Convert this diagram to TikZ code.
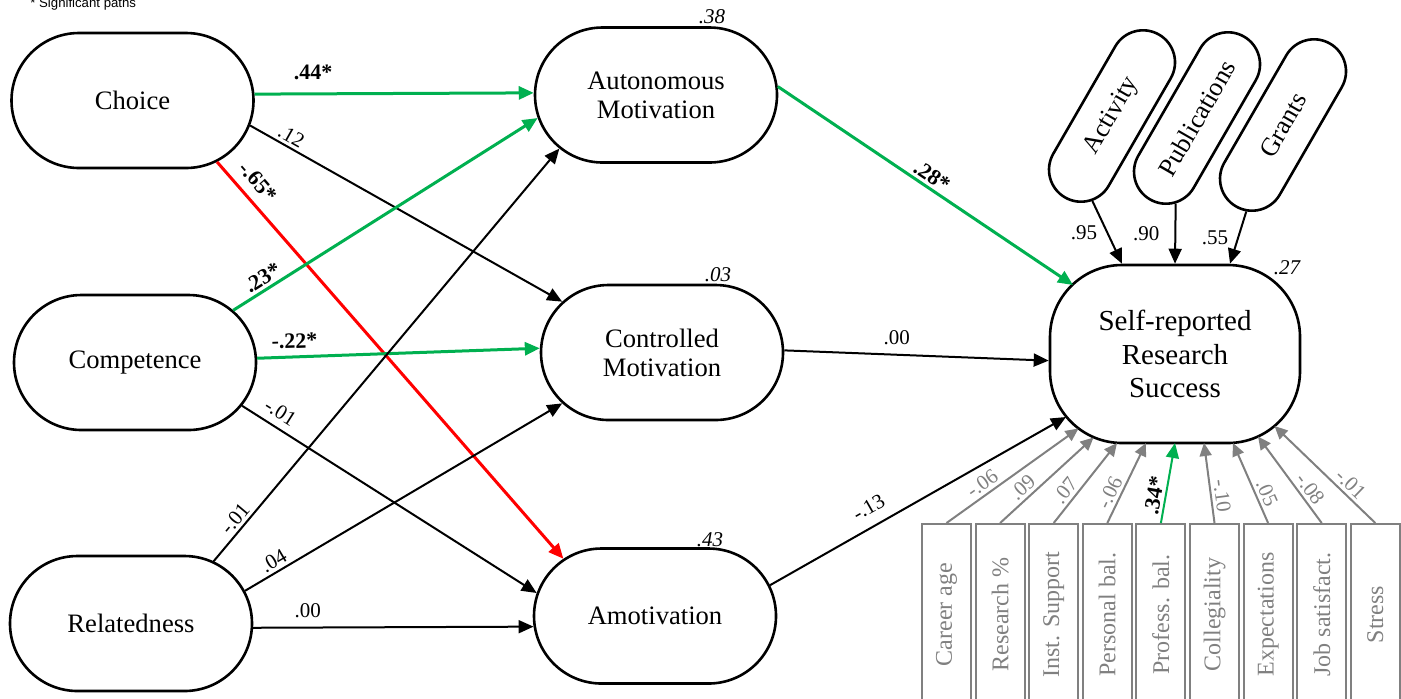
\documentclass[tikz,border=0pt]{standalone}
\usepackage{fontspec}
\setmainfont{Liberation Serif}
\newfontfamily\notefont{Liberation Sans}
\usepackage{tikz}
\usetikzlibrary{shapes.misc, arrows.meta, calc}
\definecolor{sigreen}{RGB}{0,176,80}
\definecolor{negred}{RGB}{255,0,0}
\definecolor{covgray}{RGB}{128,128,128}

\begin{document}
\begin{tikzpicture}[x=0.5pt, y=-0.5pt,
    latent/.style={rounded rectangle, draw, line width=1.3pt, minimum width=125pt, minimum height=67.5pt,
                   align=center, inner sep=2pt, font=\fontsize{13.3}{14.5}\selectfont},
    outcome/.style={rectangle, rounded corners=36pt, draw, line width=1.3pt, minimum width=125pt,
                    minimum height=89pt, align=center, font=\fontsize{14.5}{16.75}\selectfont},
    indicator/.style={rounded rectangle, draw, line width=1.3pt, minimum width=96pt, minimum height=32pt,
                      rotate=60, inner sep=1pt, font=\fontsize{13}{14}\selectfont},
    covbox/.style={rectangle, draw=covgray, line width=1pt, minimum width=90.5pt, minimum height=24.5pt,
                   rotate=90, text=covgray, font=\fontsize{12}{14}\selectfont},
    effect/.style={->, >={Triangle[length=7.5pt, width=6.5pt]}, line width=1pt},
    sigeffect/.style={effect, draw=sigreen, line width=1.5pt},
    negeffect/.style={effect, draw=negred, line width=1.5pt},
    coveffect/.style={->, >={Triangle[length=6.5pt, width=6pt]}, draw=covgray, line width=1pt},
    coef/.style={inner sep=1.5pt, font=\fontsize{10.5}{12}\selectfont},
    sigcoef/.style={inner sep=1.5pt, font=\fontsize{11}{12}\selectfont\bfseries},
    rsq/.style={anchor=base, inner sep=0pt, font=\fontsize{10.5}{12}\selectfont\itshape}]

    \useasboundingbox (0,0) rectangle (1401,698);

    \node[font=\notefont\fontsize{6.6}{8}\selectfont, anchor=base west, inner sep=0pt] (note) at (30,7) {* Significant paths};

    % needs
    \node[latent] (choice) at (132.5,100.5) {Choice};
    \node[latent] (comp) at (135,362.5) {Competence};
    \node[latent] (rel) at (131,623.5) {Relatedness};

    % motivation
    \node[latent] (auto) at (656,95) {Autonomous\\Motivation};
    \node[latent] (ctrl) at (662,352.5) {Controlled\\Motivation};
    \node[latent] (amo) at (655,616) {Amotivation};
    \node[rsq] (r2auto) at (712,23) {.38};
    \node[rsq] (r2ctrl) at (718,281) {.03};
    \node[rsq] (r2amo) at (710,546) {.43};

    % outcome and indicators
    \node[outcome] (srs) at (1175,354) {Self-reported\\Research\\Success};
    \node[rsq] (r2srs) at (1287,274) {.27};
    \coordinate (tipauto) at (1073,285);
    \coordinate (tipamo) at (1066,417);

    \node[indicator] (act) at (1112,116) {Activity};
    \node[indicator] (pub) at (1197,118) {Publications};
    \node[indicator] (grant) at (1283,125) {Grants};

    % covariates
    \foreach \i/\cvname/\txt in {0/career/Career age, 1/respct/Research \%, 2/inst/Inst. Support,
                              3/persbal/Personal bal., 4/profbal/Profess. bal., 5/colleg/Collegiality,
                              6/expect/Expectations, 7/jobsat/Job satisfact., 8/stress/Stress}
        \node[covbox] (\cvname) at ({946.5+53.6*\i},614.5) {\txt};

    % paths from needs
    \draw[sigeffect] (choice.3) -- node[sigcoef, pos=0.21, above=5pt] {.44*} (auto.179);
    \draw[effect] (choice.-12) -- node[coef, pos=0.115, sloped, above] {.12} (ctrl.153);
    \draw[negeffect] (choice.-36) -- node[sigcoef, pos=0.08, sloped, above=3pt] {-.65*} (amo.148);
    \draw[sigeffect] (comp.28) -- node[sigcoef, pos=0.117, sloped, above] {.23*} (auto.191);
    \draw[sigeffect] (comp.2) -- node[sigcoef, pos=0.134, sloped, above=2pt] {-.22*} (ctrl.178);
    \draw[effect] (comp.-22) -- node[coef, pos=0.103, sloped, above=2pt] {-.01} (amo.169);
    \draw[effect] (rel.37) -- node[coef, pos=0.086, sloped, above] {-.01} (auto.209);
    \draw[effect] (rel.16) -- node[coef, pos=0.108, sloped, above] {.04} (ctrl.207);
    \draw[effect] (rel.-2) -- node[coef, pos=0.195, above=3pt] {.00} (amo.185);

    % paths to success
    \draw[sigeffect] (auto.4) -- node[sigcoef, pos=0.5, sloped, above] {.28*} (tipauto);
    \draw[effect] (ctrl.1) -- node[coef, pos=0.425, above=3pt] {.00} (srs.183);
    \draw[effect] (amo.15) -- node[coef, pos=0.365, sloped, above=4pt] {-.13} (tipamo);

    % loadings
    \draw[effect] (act.197) -- node[coef, left=3pt] {.95} ($(srs.north)+(-53,0)$);
    \draw[effect] (pub.196) -- node[coef, left=6pt] {.90} (srs.north);
    \draw[effect] (grant.187) -- node[coef, left=3pt] {.55} ($(srs.north)+(55,0)$);

    % covariate paths
    \foreach \cvname/\val/\tx/\ty in {career/-.06/1078.5/428.5, respct/.09/1093.5/437.5, inst/.07/1117/443,
                                      persbal/-.06/1146/443, colleg/-.10/1204/443, expect/.05/1233/443,
                                      jobsat/-.08/1258/436.5, stress/-.01/1274.5/426} {
        \coordinate (tip\cvname) at (\tx,\ty);
        \draw[coveffect] (\cvname.east) -- node[coef, text=covgray, pos=0.32, sloped, above] {\val} (tip\cvname);
    }
    \coordinate (tipprofbal) at (1175,443);
    \draw[sigeffect, line width=1pt] (profbal.east) -- node[sigcoef, pos=0.32, sloped, above] {.34*} (tipprofbal);
\end{tikzpicture}
\end{document}
